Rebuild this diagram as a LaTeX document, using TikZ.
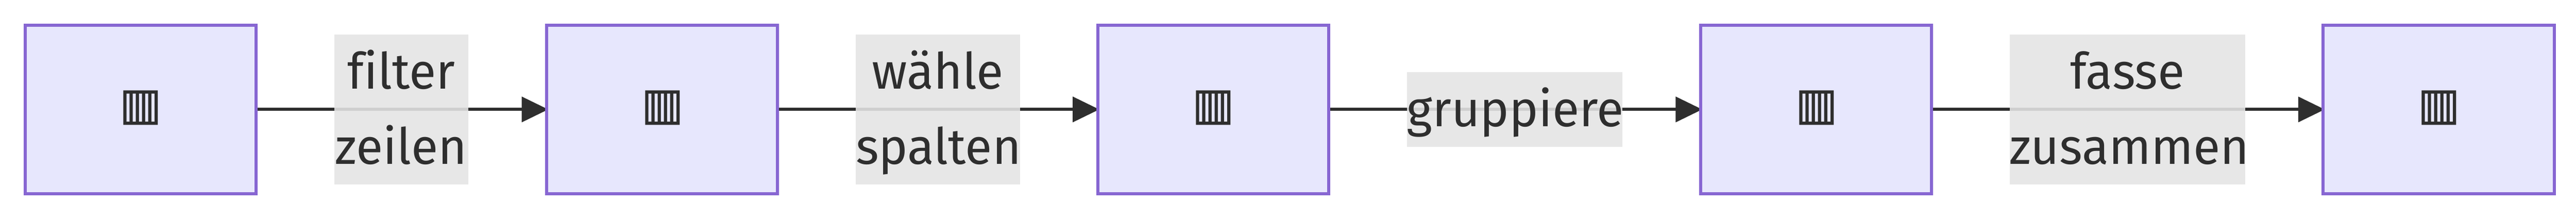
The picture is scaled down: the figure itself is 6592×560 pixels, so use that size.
\documentclass[tikz,border=0pt]{standalone}
\usepackage{fontspec}
\setmainfont[Ligatures=NoCommon]{Fira Sans}
\newfontfamily\iconfont{DejaVu Sans Mono}
\usetikzlibrary{arrows.meta,backgrounds}
\definecolor{boxfill}{RGB}{231,231,253}
\definecolor{boxline}{RGB}{135,102,210}
\definecolor{ink}{RGB}{46,46,46}
\definecolor{lblfill}{RGB}{228,228,228}
\newcommand{\lstrut}{\rule[-52.5pt]{0pt}{192pt}}
\newcommand{\word}[1]{\scalebox{.985}[1]{#1}}
\newcommand{\tableicon}{\rule[-50pt]{0pt}{100pt}\raisebox{-35pt}{\smash{\makebox[0pt][c]{\kern2pt\iconfont\fontsize{148}{148}\selectfont ▥}}}}
\tikzset{
  x=1pt,y=-1pt,
  tablebox/.style={draw=boxline,fill=boxfill,line width=8pt,minimum width=591pt,minimum height=432pt,inner sep=0pt,text=ink,font=\fontsize{128}{134}\selectfont},
  flow/.style={draw=ink,line width=8pt,-{Triangle[length=68pt,width=64pt]},shorten >=-8pt},
  edgelabel/.style={fill=lblfill,fill opacity=.885,text opacity=1,text=ink,inner sep=0pt,align=center,font=\fontsize{128}{192}\selectfont},
}
\begin{document}
\begin{tikzpicture}
\useasboundingbox (0,0) rectangle (6592,560);
\node[tablebox] (a) at (359.5,280) {\tableicon};
\node[tablebox] (b) at (1694.5,280) {\tableicon};
\node[tablebox] (c) at (3104.5,280) {\tableicon};
\node[tablebox] (d) at (4647.5,280) {\tableicon};
\node[tablebox] (e) at (6240.5,280) {\tableicon};
\begin{scope}[on background layer]
\fill[white] (0,0) rectangle (6592,560);
\draw[flow] (a) -- (b);
\draw[flow] (b) -- (c);
\draw[flow] (c) -- (d);
\draw[flow] (d) -- (e);
\end{scope}
\node[edgelabel,text width=343pt] (l1) at (1026.5,280) {\word{filter}\lstrut\\\word{zeilen}\lstrut};
\node[edgelabel,text width=420pt] (l2) at (2400,280) {\word{wähle}\lstrut\\\word{spalten}\lstrut};
\node[edgelabel,text width=551pt] (l3) at (3875.5,280) {\word{gruppiere}\lstrut};
\node[edgelabel,text width=603pt] (l4) at (5444.5,280) {\word{fasse}\lstrut\\\word{zusammen}\lstrut};
\end{tikzpicture}
\end{document}
